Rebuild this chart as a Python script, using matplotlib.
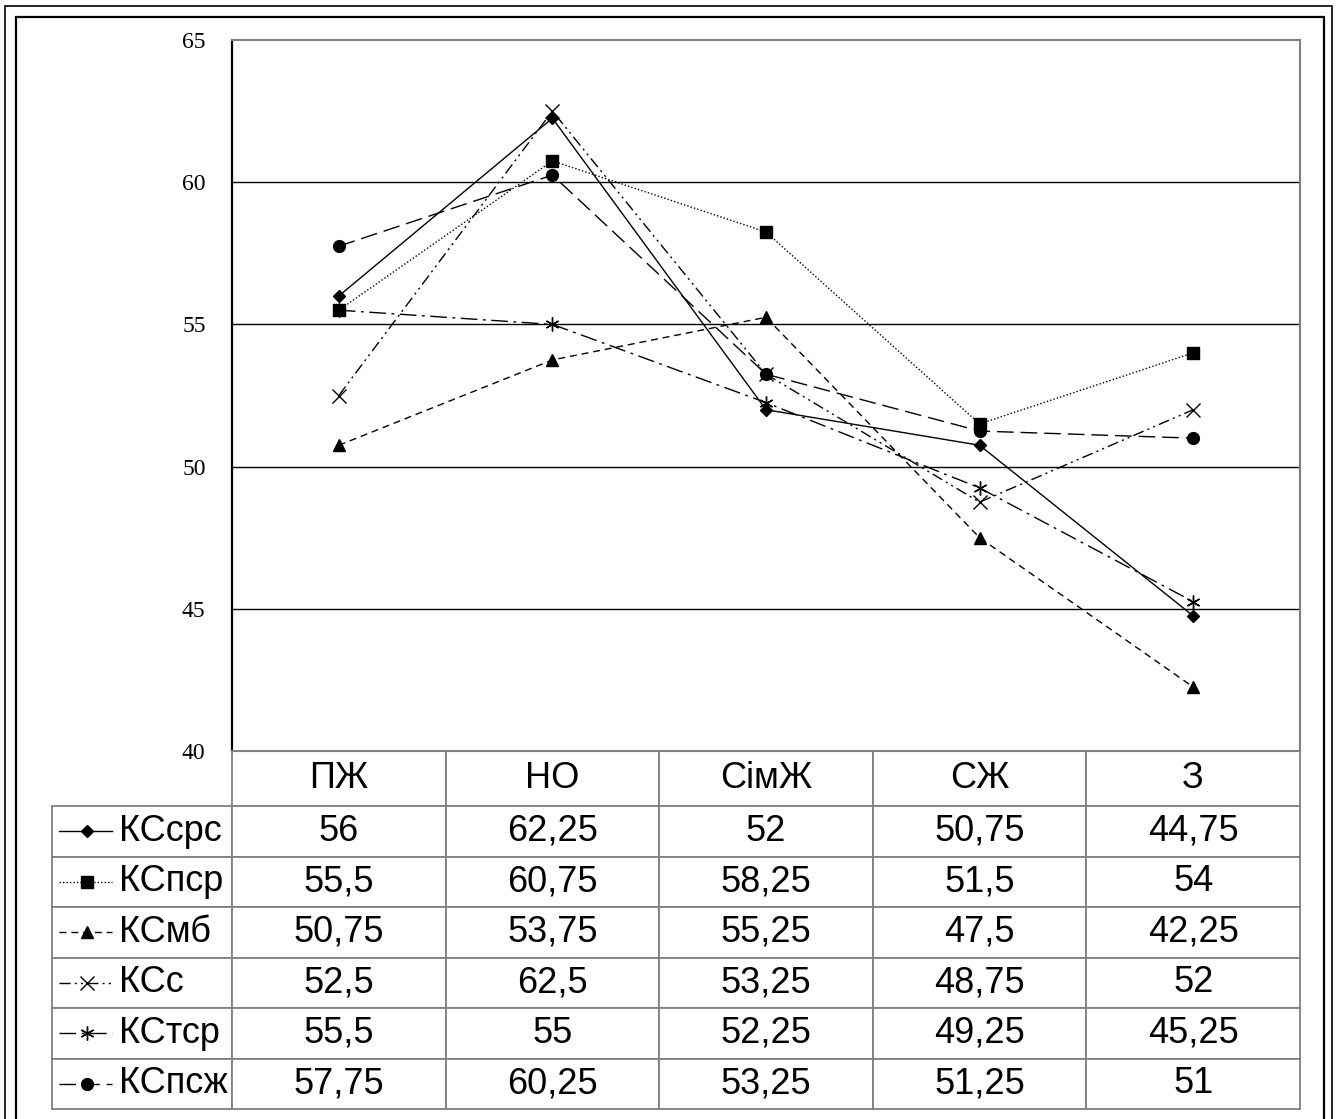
import matplotlib
matplotlib.use("Agg")
import matplotlib.pyplot as plt
from matplotlib.lines import Line2D
from matplotlib.patches import Rectangle

# categories and series
kategorii = ["ПЖ", "НО", "СімЖ", "СЖ", "З"]
nazvy = ["КСсрс", "КСпср", "КСмб", "КСс", "КСтср", "КСпсж"]
kscrs = [56, 62.25, 52, 50.75, 44.75]
kspcr = [55.5, 60.75, 58.25, 51.5, 54]
ksmb = [50.75, 53.75, 55.25, 47.5, 42.25]
ksc = [52.5, 62.5, 53.25, 48.75, 52]
kstcr = [55.5, 55, 52.25, 49.25, 45.25]
kspszh = [57.75, 60.25, 53.25, 51.25, 51]
yticks = [40, 45, 50, 55, 60, 65]

seriyi = [kscrs, kspcr, ksmb, ksc, kstcr, kspszh]

# line styles for each series (style, marker, marker size)
stili = [
    ("-", "D", 6),
    ((0, (1, 1.5)), "s", 8),
    ((0, (5, 3.5)), "^", 8),
    ((0, (8, 3, 1.5, 3, 1.5, 3)), "x", 10),
    ((0, (12, 4, 2, 4)), (6, 2, 0), 10),
    ((0, (12, 5)), "o", 8.5),
]

W, H = 1339, 1119
fig = plt.figure(figsize=(W / 100, H / 100), dpi=100)

# plot area in pixels
l, t, r, b = 232, 40, 1300, 751
ax = fig.add_axes([l / W, 1 - b / H, (r - l) / W, (b - t) / H])

x = list(range(len(kategorii)))
for s, (ls, mk, ms) in zip(seriyi, stili):
    ax.plot(x, s, color="black", linestyle=ls, linewidth=1.0,
            marker=mk, markersize=ms, markerfacecolor="black",
            markeredgecolor="black", markeredgewidth=1.0, clip_on=False)

ax.set_xlim(-0.5, len(kategorii) - 0.5)
ax.set_ylim(40, 65)
ax.set_yticks(yticks)
ax.set_yticklabels([str(v) for v in yticks])
ax.tick_params(axis="y", length=0, pad=19, labelsize=17,
               labelfontfamily="Liberation Serif")
ax.set_xticks([])
for v in yticks[1:-1]:
    ax.axhline(v, color="black", linewidth=1.0, zorder=0)
ax.spines["left"].set_linewidth(1.6)
ax.spines["left"].set_color("black")
for sp in ["top", "right", "bottom"]:
    ax.spines[sp].set_color("#808080")
    ax.spines[sp].set_linewidth(1.5)

# tablica pid grafikom
tab_l, tab_b = 52, 1109
tekst = []
for nm, s in zip(nazvy, seriyi):
    tekst.append([nm] + [f"{v:g}".replace(".", ",") for v in s])
col_w = [l - tab_l] + [(r - l) / len(kategorii)] * len(kategorii)
tab = ax.table(cellText=tekst, colLabels=[""] + kategorii,
               colWidths=[w / (r - tab_l) for w in col_w],
               cellLoc="center",
               bbox=[(tab_l - l) / (r - l), -(tab_b - b) / (b - t),
                     (r - tab_l) / (r - l), (tab_b - b) / (b - t)])
tab.auto_set_font_size(False)
head_h = 55
ryad_h = (tab_b - b - head_h) / len(nazvy)
for (i, j), cell in tab.get_celld().items():
    cell.set_edgecolor("#808080")
    cell.set_linewidth(1.3)
    cell.set_height((head_h if i == 0 else ryad_h) / 1000)
    cell.get_text().set_fontfamily("Liberation Sans")
    cell.get_text().set_fontsize(26)
    if i == 0 and j == 0:
        cell.set_visible(False)
    if j == 0 and i > 0:
        cell._loc = "left"
        cell.get_text().set_horizontalalignment("left")
        cell.PAD = (119 - tab_l) / (l - tab_l)

# obrazci liniy u pershiy kolonci
for i, (ls, mk, ms) in enumerate(stili):
    yc = b + head_h + ryad_h * (i + 0.5)
    yy = 1 - (yc - t) / (b - t)
    x0 = (59 - l) / (r - l)
    x1 = (112 - l) / (r - l)
    xm = (87 - l) / (r - l)
    ax.add_line(Line2D([x0, x1], [yy, yy], transform=ax.transAxes, color="black",
                       linestyle=ls, linewidth=1.0, clip_on=False))
    ax.add_line(Line2D([xm], [yy], transform=ax.transAxes, color="black",
                       marker=mk, markersize=ms, markerfacecolor="black",
                       markeredgecolor="black", clip_on=False))

# ramki navkolo
fig.patches.append(Rectangle((5 / W, -0.05), 1327 / W, 1.05 - 6 / H,
                             transform=fig.transFigure, fill=False,
                             edgecolor="black", linewidth=1.2))
fig.patches.append(Rectangle((16 / W, -0.05), 1308 / W, 1.05 - 17 / H,
                             transform=fig.transFigure, fill=False,
                             edgecolor="black", linewidth=1.6))

fig.savefig("out.png", dpi=100)
